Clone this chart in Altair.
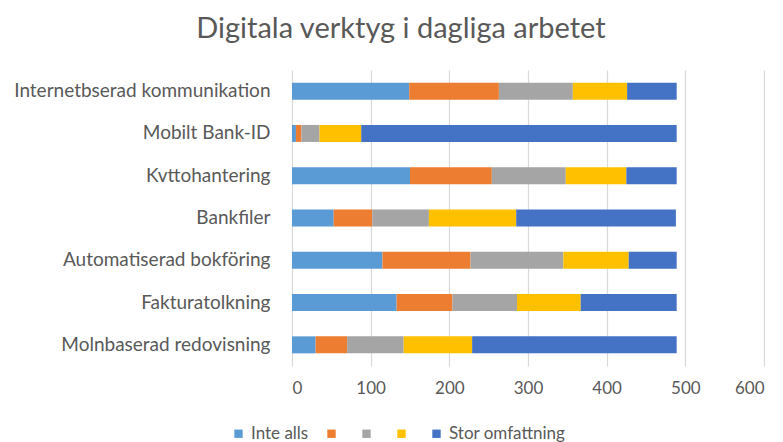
import altair as alt
import pandas as pd

categories = ["Internetbserad kommunikation", "Mobilt Bank-ID", "Kvttohantering", "Bankfiler",
              "Automatiserad bokföring", "Fakturatolkning", "Molnbaserad redovisning"]
levels = ["Inte alls", "2", "3", "4", "Stor omfattning"]
level1 = [149, 5, 150, 53, 115, 133, 30]
level2 = [114, 7, 104, 49, 112, 71, 40]
level3 = [94, 23, 94, 72, 118, 82, 72]
level4 = [69, 53, 77, 111, 83, 81, 87]
level5 = [63, 401, 64, 203, 61, 122, 260]
colors = ["#5B9BD5", "#ED7D31", "#A5A5A5", "#FFC000", "#4472C4"]

series = [level1, level2, level3, level4, level5]
rows = []
for li, (lev, vals) in enumerate(zip(levels, series)):
    for cat, v in zip(categories, vals):
        rows.append({"Kategori": cat, "Nivå": lev, "ordning": li, "Antal": v})
df = pd.DataFrame(rows)

FONT = "Lato"
GREY = "#595959"

chart = alt.Chart(df).mark_bar(size=17).encode(
    y=alt.Y("Kategori:N", sort=categories, title=None,
            scale=alt.Scale(paddingInner=0.6, paddingOuter=0.3),
            axis=alt.Axis(labelFont=FONT, labelFontSize=19, labelColor=GREY,
                          labelPadding=22, ticks=False, domain=False, grid=False,
                          labelLimit=300)),
    x=alt.X("Antal:Q", stack="zero", title=None,
            scale=alt.Scale(domain=[0, 600], nice=False),
            axis=alt.Axis(values=[0, 100, 200, 300, 400, 500, 600], labelFont=FONT,
                          labelFontSize=17, labelColor=GREY, ticks=False, domain=False,
                          gridColor="#D9D9D9", gridWidth=1.2, labelPadding=14)),
    color=alt.Color("Nivå:N", sort=levels,
                    scale=alt.Scale(domain=levels, range=colors),
                    legend=alt.Legend(title=None, orient="none", direction="horizontal",
                                      legendX=-62, legendY=355,
                                      symbolType="square", symbolSize=70,
                                      symbolStrokeWidth=0, labelOffset=4,
                                      columnPadding=14,
                                      labelFont=FONT, labelFontSize=17, labelColor=GREY,
                                      labelExpr="datum.label == 'Inte alls' || datum.label == 'Stor omfattning' ? datum.label : '\u00a0\u00a0\u00a0'")),
    order=alt.Order("ordning:Q", sort="ascending"),
).properties(
    width=472, height=296,
    autosize="none",
    padding={"left": 284, "top": 62, "right": 11, "bottom": 76},
    title=alt.TitleParams("Digitala verktyg i dagliga arbetet", font=FONT, fontSize=29,
                          fontWeight="normal", color=GREY, anchor="middle", dx=-127,
                          offset=26),
).configure_view(stroke=None)

chart.save("out.html", embed_options={"renderer": "svg", "actions": False})
